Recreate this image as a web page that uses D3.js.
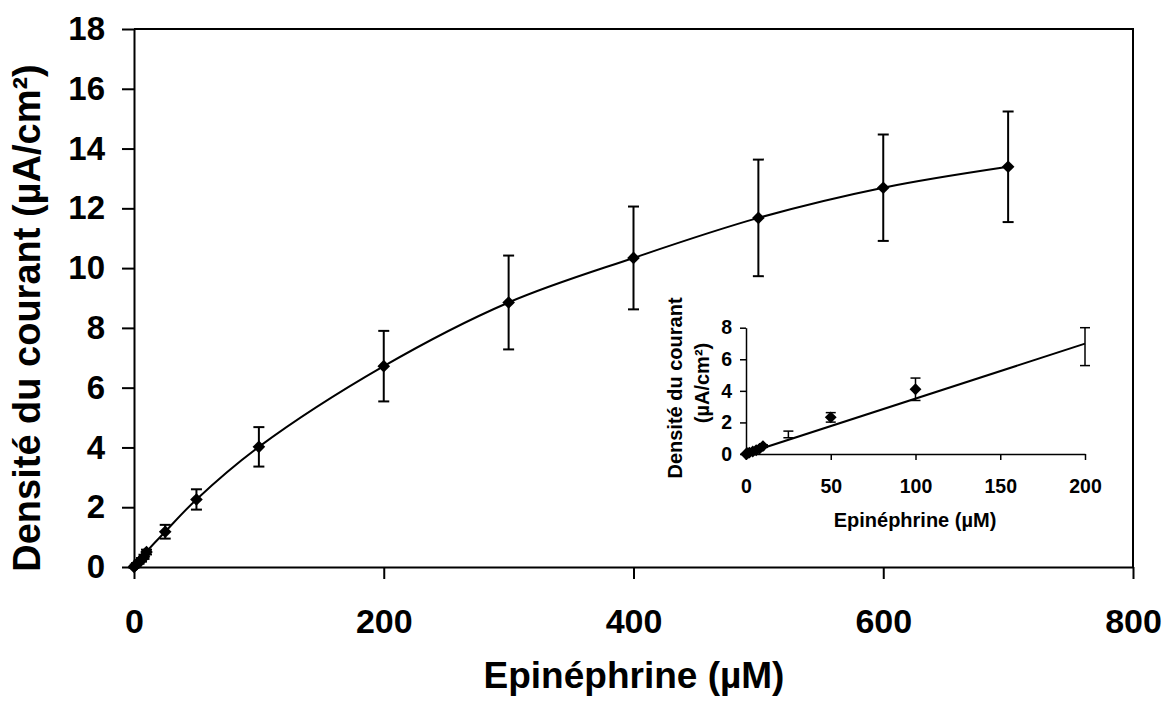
<!DOCTYPE html>
<html>
<head>
<meta charset="utf-8">
<script src="https://cdn.jsdelivr.net/npm/d3@7"></script>
<style>
  html, body { margin: 0; padding: 0; background: #fff; }
  svg { display: block; }
  text { font-family: "Liberation Sans", Arial, sans-serif; font-weight: bold; fill: #000; }
</style>
</head>
<body>
<svg id="chart" width="1165" height="702"></svg>
<script>
// ---------- data ----------
const concentrations = [0, 1, 2, 4, 6, 8, 10, 25, 50, 100, 200, 300, 400, 500, 600, 700];
const currentDensity = [0, 0.05, 0.09, 0.16, 0.24, 0.34, 0.5, 1.18, 2.26, 4.02, 6.72, 8.85, 10.34, 11.68, 12.69, 13.39];
const currentError   = [0.02, 0.03, 0.04, 0.05, 0.06, 0.07, 0.08, 0.23, 0.34, 0.66, 1.18, 1.57, 1.72, 1.95, 1.78, 1.85];

const mainXTicks = [0, 200, 400, 600, 800];
const mainYTicks = [0, 2, 4, 6, 8, 10, 12, 14, 16, 18];

const insetConc      = [0, 1, 2, 4, 6, 8, 10, 25, 50, 100, 200];
const insetDensity   = [0, 0.05, 0.09, 0.16, 0.24, 0.34, 0.5, 1.24, 2.32, 4.1, 6.8];
const insetError     = [0.02, 0.03, 0.04, 0.05, 0.06, 0.07, 0.08, 0.21, 0.3, 0.71, 1.2];
const insetMarkerConc = [0, 1, 2, 4, 6, 8, 10, 50, 100];
const insetFit = { slope: 0.0348, intercept: 0.03, from: 0, to: 200 };

const insetXTicks = [0, 50, 100, 150, 200];
const insetYTicks = [0, 2, 4, 6, 8];

const xTitle = "Epinéphrine (µM)";
const yTitle = "Densité du courant (µA/cm²)";
const insetYTitle = ["Densité du courant", "(µA/cm²)"];

// ---------- drawing ----------
const svg = d3.select("#chart");
const FONT = '"Liberation Sans", Arial, sans-serif';

const diamond = {
  draw(ctx, size) {
    const r = Math.sqrt(size / 2);
    ctx.moveTo(0, -r); ctx.lineTo(r, 0); ctx.lineTo(0, r); ctx.lineTo(-r, 0); ctx.closePath();
  }
};

// main scales
const x = d3.scaleLinear().domain([0, 800]).range([134, 1133]);
const y = d3.scaleLinear().domain([0, 18]).range([567, 29]);

// frame (top + right)
svg.append("path")
  .attr("d", `M${x(0)},${y(18)}H${x(800)}V${y(0)}`)
  .attr("fill", "none").attr("stroke", "#000").attr("stroke-width", 2);

const gx = svg.append("g").attr("transform", `translate(0,${y(0)})`)
  .call(d3.axisBottom(x).tickValues(mainXTicks).tickSize(12).tickSizeOuter(0).tickPadding(30).tickFormat(d3.format("d")));
const gy = svg.append("g").attr("transform", `translate(${x(0)},0)`)
  .call(d3.axisLeft(y).tickValues(mainYTicks).tickSize(12).tickSizeOuter(0).tickPadding(17).tickFormat(d3.format("d")));
[gx, gy].forEach(g => {
  g.select(".domain").attr("stroke", "#000").attr("stroke-width", 2);
  g.selectAll(".tick line").attr("stroke", "#000").attr("stroke-width", 2);
  g.selectAll("text").attr("font-family", FONT).attr("font-weight", "bold").attr("fill", "#000");
});
gx.selectAll("text").attr("font-size", 34);
gy.selectAll("text").attr("font-size", 33);

// titles
svg.append("text").attr("x", 634).attr("y", 688).attr("text-anchor", "middle")
  .attr("font-size", 37).text(xTitle);
svg.append("text").attr("transform", "translate(40,318) rotate(-90)").attr("text-anchor", "middle")
  .attr("font-size", 38).text(yTitle);

// main data
const mainData = concentrations.map((c, i) => ({ c, v: currentDensity[i], e: currentError[i] }));

svg.append("path").datum(mainData)
  .attr("d", d3.line().x(d => x(d.c)).y(d => y(d.v)).curve(d3.curveCatmullRom.alpha(0.5)))
  .attr("fill", "none").attr("stroke", "#000").attr("stroke-width", 2);

const eb = svg.append("g").attr("stroke", "#000").attr("stroke-width", 2);
mainData.forEach(d => {
  const cx = x(d.c), t = y(d.v + d.e), b = y(d.v - d.e);
  eb.append("line").attr("x1", cx).attr("x2", cx).attr("y1", t).attr("y2", b);
  eb.append("line").attr("x1", cx - 5.5).attr("x2", cx + 5.5).attr("y1", t).attr("y2", t);
  eb.append("line").attr("x1", cx - 5.5).attr("x2", cx + 5.5).attr("y1", b).attr("y2", b);
});
svg.append("g").selectAll("path").data(mainData).join("path")
  .attr("transform", d => `translate(${x(d.c)},${y(d.v)})`)
  .attr("d", d3.symbol().type(diamond).size(80))
  .attr("fill", "#000");

// ---------- inset ----------
const ix = d3.scaleLinear().domain([0, 200]).range([746, 1085]);
const iy = d3.scaleLinear().domain([0, 8]).range([454, 327.7]);

const igx = svg.append("g").attr("transform", `translate(0,${iy(0)})`)
  .call(d3.axisBottom(ix).tickValues(insetXTicks).tickSize(6).tickSizeOuter(0).tickPadding(19).tickFormat(d3.format("d")));
const igy = svg.append("g").attr("transform", `translate(${ix(0)},0)`)
  .call(d3.axisLeft(iy).tickValues(insetYTicks).tickSize(6).tickSizeOuter(0).tickPadding(8).tickFormat(d3.format("d")));
[igx, igy].forEach(g => {
  g.select(".domain").attr("stroke", "#000").attr("stroke-width", 1.5);
  g.selectAll(".tick line").attr("stroke", "#000").attr("stroke-width", 1.5);
  g.selectAll("text").attr("font-family", FONT).attr("font-weight", "bold").attr("fill", "#000").attr("font-size", 19.5);
});

svg.append("text").attr("x", 915).attr("y", 527).attr("text-anchor", "middle")
  .attr("font-size", 20).text(xTitle);
svg.append("text").attr("transform", "translate(682,388) rotate(-90)").attr("text-anchor", "middle")
  .attr("font-size", 20).text(insetYTitle[0]);
svg.append("text").attr("transform", "translate(709,383) rotate(-90)").attr("text-anchor", "middle")
  .attr("font-size", 20).text(insetYTitle[1]);

// fit line
svg.append("line")
  .attr("x1", ix(insetFit.from)).attr("y1", iy(insetFit.intercept + insetFit.slope * insetFit.from))
  .attr("x2", ix(insetFit.to)).attr("y2", iy(insetFit.intercept + insetFit.slope * insetFit.to))
  .attr("stroke", "#000").attr("stroke-width", 2);

const insetData = insetConc.map((c, i) => ({ c, v: insetDensity[i], e: insetError[i] }));
const ieb = svg.append("g").attr("stroke", "#000").attr("stroke-width", 1.5);
insetData.forEach(d => {
  const cx = ix(d.c), t = iy(d.v + d.e), b = iy(d.v - d.e);
  ieb.append("line").attr("x1", cx).attr("x2", cx).attr("y1", t).attr("y2", b);
  ieb.append("line").attr("x1", cx - 5).attr("x2", cx + 5).attr("y1", t).attr("y2", t);
  ieb.append("line").attr("x1", cx - 5).attr("x2", cx + 5).attr("y1", b).attr("y2", b);
});
svg.append("g").selectAll("path")
  .data(insetData.filter(d => insetMarkerConc.includes(d.c))).join("path")
  .attr("transform", d => `translate(${ix(d.c)},${iy(d.v)})`)
  .attr("d", d3.symbol().type(diamond).size(70))
  .attr("fill", "#000");
</script>
</body>
</html>
